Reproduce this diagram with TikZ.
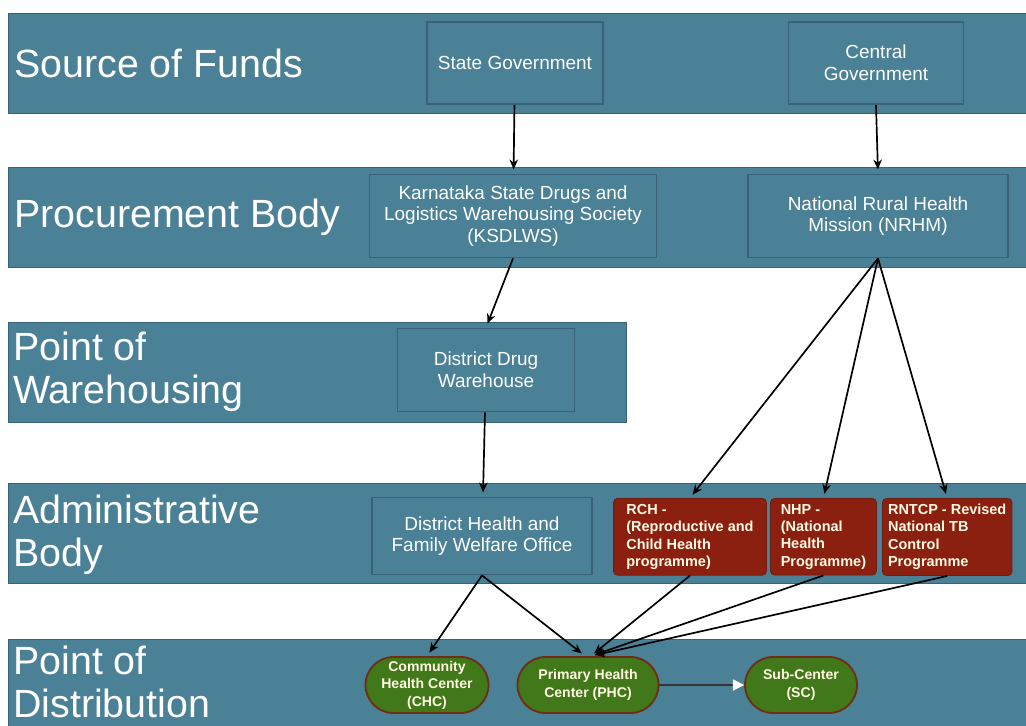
\documentclass[tikz,border=0pt]{standalone}
\usepackage{fontspec}
\setmainfont{Liberation Sans}
\usetikzlibrary{arrows.meta}
\definecolor{bandteal}{RGB}{75,129,150}
\definecolor{boxedge}{RGB}{55,99,118}
\definecolor{progred}{RGB}{140,32,16}
\definecolor{progedge}{RGB}{110,28,14}
\definecolor{centregreen}{RGB}{64,120,26}
\definecolor{centreedge}{RGB}{112,44,20}
\definecolor{cream}{RGB}{255,250,225}
\tikzset{
  band/.style={fill=bandteal, draw=boxedge, line width=0.6pt},
  bandlabel/.style={anchor=west, text=white, align=left, inner sep=0pt,
    font=\fontsize{28}{31}\selectfont},
  tealbox/.style={draw=boxedge, line width=1.2pt, fill=bandteal, text=white,
    align=center, font=\fontsize{13.5}{15.5}\selectfont},
  progbox/.style={draw=progedge, line width=0.6pt, fill=progred, text=cream,
    rounded corners=3pt, align=left, inner sep=4pt, anchor=north west,
    font=\bfseries\fontsize{10.3}{12.4}\selectfont},
  centre/.style={draw=centreedge, line width=1.3pt, fill=centregreen, text=cream,
    rounded corners=0.7cm, minimum height=1.4cm, align=center, inner sep=2pt,
    font=\bfseries\fontsize{10}{12.4}\selectfont},
  flow/.style={line width=1.2pt, -{Stealth[length=7pt,width=6pt]}, shorten >=3pt}
}
\begin{document}
\begin{tikzpicture}[x=0.025cm, y=-0.025cm]
  \useasboundingbox (0,0) rectangle (1026,725);
  \fill[white] (0,0) rectangle (1026,725);

  % level bands
  \draw[band] (8,13) rectangle (1030,113);
  \draw[band] (8,167) rectangle (1030,267);
  \draw[band] (8,322) rectangle (626,422);
  \draw[band] (8,483) rectangle (1030,583);
  \draw[band] (8,639) rectangle (1030,730);

  \node[bandlabel] (funds) at (14,63) {Source of Funds};
  \node[bandlabel] (procure) at (14,217) {Procurement Body};
  \node[bandlabel] (warehouse) at (13,372) {Point of\\Warehousing};
  \node[bandlabel] (admin) at (13,535) {Administrative\\Body};
  \node[bandlabel] (distrib) at (13,682) {Point of\\Distribution};

  % funding and procurement
  \node[tealbox, minimum width=4.4cm, minimum height=2.05cm] (stategov) at (515,63) {State Government};
  \node[tealbox, minimum width=4.375cm, minimum height=2.05cm] (centralgov) at (876,63) {Central\\Government};
  \node[tealbox, minimum width=7.175cm, minimum height=2.075cm] (ksdlws) at (513,216)
    {Karnataka State Drugs and\\Logistics Warehousing Society\\(KSDLWS)};
  \node[tealbox, minimum width=6.5cm, minimum height=2.075cm] (nrhm) at (878,216)
    {National Rural Health\\Mission (NRHM)};
  \node[tealbox, minimum width=4.425cm, minimum height=2.075cm] (ddw) at (486,370)
    {District Drug\\Warehouse};
  \node[tealbox, minimum width=5.5cm, minimum height=1.925cm] (dhfwo) at (482,536)
    {District Health and\\Family Welfare Office};

  % programmes
  \node[progbox, minimum width=3.825cm, minimum height=1.875cm] (rch) at (613,498)
    {RCH -\\(Reproductive and\\Child Health\\programme)};
  \node[progbox, minimum width=2.65cm, minimum height=1.875cm] (nhp) at (770,498)
    {NHP -\\(National\\Health\\Programme)};
  \node[progbox, minimum width=3.175cm, minimum height=1.875cm] (rntcp) at (882,498)
    {RNTCP - Revised\\National TB\\Control\\Programme};

  % health centres
  \node[centre, minimum width=3.075cm] (chc) at (427,685) {Community\\Health Center\\(CHC)};
  \node[centre, minimum width=3.525cm] (phc) at (588,685) {Primary Health\\Center (PHC)};
  \node[centre, minimum width=2.8cm] (sc) at (801,685) {Sub-Center\\(SC)};

  % connectors
  \draw[flow] (stategov) -- (ksdlws);
  \draw[flow] (centralgov.south) -- (nrhm.north);
  \draw[flow] (ksdlws.south) -- (ddw.north);
  \draw[flow] (ddw) -- (dhfwo);
  \draw[flow] (nrhm.south) -- (rch.north);
  \draw[flow] (nrhm.south) -- (nhp.north);
  \draw[flow] (nrhm.south) -- (rntcp.north);
  \draw[flow] (dhfwo.south) -- (chc.north);
  \draw[flow] (dhfwo.south) -- ([xshift=-2pt]phc.north);
  \draw[flow] (rch.south) -- ([xshift=2pt]phc.north);
  \draw[flow] (nhp.south) -- ([xshift=2pt]phc.north);
  \draw[flow] (rntcp.south) -- ([xshift=2pt]phc.north);
  \draw[line width=1.2pt, draw=black!80, -{Triangle[length=8pt,width=8pt,color=white]}] (phc) -- (sc);
\end{tikzpicture}
\end{document}
